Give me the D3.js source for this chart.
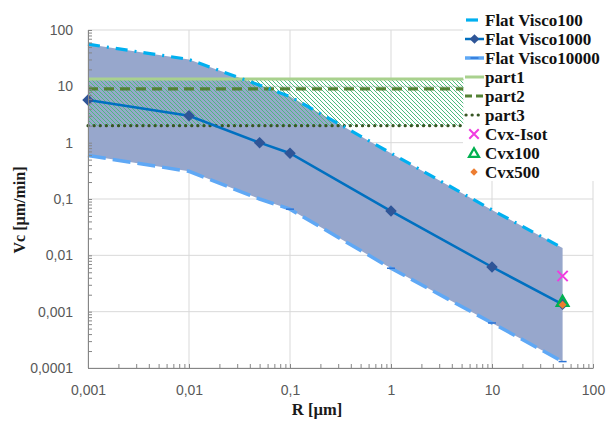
<!DOCTYPE html>
<html>
<head>
<meta charset="utf-8">
<script src="https://cdn.jsdelivr.net/npm/d3@7"></script>
<style>
  body { margin: 0; background: #fff; }
  svg { display: block; }
</style>
</head>
<body>
<svg width="606" height="421"></svg>
<script>
// radius values (um)
const radii = [0.001, 0.01, 0.05, 0.1, 1, 10, 50];
const visco100 = [56, 30, 10.5, 6.6, 0.65, 0.064, 0.0135];
const visco1000 = [5.7, 3.0, 1.0, 0.65, 0.061, 0.0062, 0.00135];
const visco10000 = [0.59, 0.31, 0.1, 0.066, 0.0059, 0.00063, 0.00013];

// horizontal bands
const partRange = [0.001, 5.2];
const part1 = 13.5;
const part2 = 9;
const part3 = 2;

// single points at R = 50
const cvxR = 50;
const cvxIsot = 0.0043;
const cvx100 = 0.00145;
const cvx500 = 0.00133;

const xTicks = [0.001, 0.01, 0.1, 1, 10, 100];
const xTickLabels = ["0,001", "0,01", "0,1", "1", "10", "100"];
const yTicks = [0.0001, 0.001, 0.01, 0.1, 1, 10, 100];
const yTickLabels = ["0,0001", "0,001", "0,01", "0,1", "1", "10", "100"];

const legendNames = ["Flat Visco100", "Flat Visco1000", "Flat Visco10000", "part1", "part2", "part3", "Cvx-Isot", "Cvx100", "Cvx500"];

const svg = d3.select("svg");
const x = d3.scaleLog().domain([0.001, 100]).range([88, 593]);
const y = d3.scaleLog().domain([0.0001, 100]).range([368, 30]);

// hatch pattern for the "part" band
const defs = svg.append("defs");
const pat = defs.append("pattern")
    .attr("id", "hatch")
    .attr("patternUnits", "userSpaceOnUse")
    .attr("width", 4).attr("height", 4);
pat.append("path")
    .attr("d", "M-1,-1 L5,5 M-1,3 L1,5 M3,-1 L5,1")
    .attr("stroke", "#4dbb7e")
    .attr("stroke-width", 1);

// minor tick values
function minors(lo, hi) {
    let out = [];
    for (let e = Math.log10(lo); e < Math.log10(hi); e++) {
        for (let k = 1; k < 10; k++) out.push(k * Math.pow(10, e));
    }
    out.push(hi);
    return out;
}

// gridlines
const grid = svg.append("g").attr("stroke", "#d9d9d9").attr("stroke-width", 1);
xTicks.forEach(t => {
    grid.append("line").attr("x1", x(t)).attr("x2", x(t)).attr("y1", y(100)).attr("y2", y(0.0001));
});
yTicks.forEach(t => {
    grid.append("line").attr("x1", x(0.001)).attr("x2", x(100)).attr("y1", y(t)).attr("y2", y(t));
});

// legend background hides gridlines under it
svg.append("rect").attr("x", 463).attr("y", 0).attr("width", 143).attr("height", 181).attr("fill", "#fff");

// band between the viscous curves
const pts = radii.map((r, i) => ({ r: r, hi: visco100[i], mid: visco1000[i], lo: visco10000[i] }));
const area = d3.area().x(d => x(d.r)).y0(d => y(d.lo)).y1(d => y(d.hi));
svg.append("path").datum(pts).attr("d", area).attr("fill", "#97a7cc");

// hatched band for the parts
svg.append("rect")
    .attr("x", x(partRange[0])).attr("width", x(partRange[1]) - x(partRange[0]))
    .attr("y", y(part1)).attr("height", y(part3) - y(part1))
    .attr("fill", "url(#hatch)");

function hline(v, color, dash, w, cap) {
    svg.append("line")
        .attr("x1", x(partRange[0])).attr("x2", x(partRange[1]))
        .attr("y1", y(v)).attr("y2", y(v))
        .attr("stroke", color).attr("stroke-width", w)
        .attr("stroke-dasharray", dash).attr("stroke-linecap", cap);
}
hline(part1, "#a9d18e", null, 3, "butt");
hline(part2, "#548235", "10,6", 3.2, "butt");
hline(part3, "#375623", "0.1,6", 3.2, "round");

const line = key => d3.line().x(d => x(d.r)).y(d => y(d[key]));

// Visco10000: light blue long dashes with small dash markers
svg.append("path").datum(pts).attr("d", line("lo"))
    .attr("fill", "none").attr("stroke", "#5fa8f5").attr("stroke-width", 3.5)
    .attr("stroke-dasharray", "18,7");
svg.selectAll(".m10000").data(pts.slice(3)).enter().append("line")
    .attr("x1", d => x(d.r) - 4).attr("x2", d => x(d.r) + 4)
    .attr("y1", d => y(d.lo)).attr("y2", d => y(d.lo))
    .attr("stroke", "#2e75d6").attr("stroke-width", 1.5);

// Visco100: cyan dash-dot
svg.append("path").datum(pts).attr("d", line("hi"))
    .attr("fill", "none").attr("stroke", "#00b0f0").attr("stroke-width", 3.2)
    .attr("stroke-dasharray", "12,7,2,7");

// Visco1000: solid blue with diamonds
svg.append("path").datum(pts).attr("d", line("mid"))
    .attr("fill", "none").attr("stroke", "#0070c0").attr("stroke-width", 2.5);
svg.selectAll(".m1000").data(pts).enter().append("path")
    .attr("d", d3.symbol(d3.symbolDiamond2, 85))
    .attr("transform", d => `translate(${x(d.r)},${y(d.mid)})`)
    .attr("fill", "#2f5597");

// convex points
svg.append("path").attr("d", d3.symbol(d3.symbolX, 70))
    .attr("transform", `translate(${x(cvxR)},${y(cvxIsot)})`)
    .attr("fill", "none").attr("stroke", "#f03ce0").attr("stroke-width", 2);
svg.append("path").attr("d", d3.symbol(d3.symbolTriangle2, 90))
    .attr("transform", `translate(${x(cvxR)},${y(cvx100)})`)
    .attr("fill", "none").attr("stroke", "#00b050").attr("stroke-width", 2.5);
svg.append("path").attr("d", d3.symbol(d3.symbolDiamond2, 40))
    .attr("transform", `translate(${x(cvxR)},${y(cvx500)})`)
    .attr("fill", "#ed7d31");

// axes
const yAxis = d3.axisLeft(y)
    .tickValues(minors(0.0001, 100))
    .tickSizeInner(-4).tickSizeOuter(0).tickPadding(15)
    .tickFormat(d => { const i = yTicks.findIndex(t => Math.abs(t - d) / t < 1e-6); return i >= 0 ? yTickLabels[i] : ""; });
const xAxis = d3.axisBottom(x)
    .tickValues(minors(0.001, 100))
    .tickSizeInner(-4).tickSizeOuter(0).tickPadding(17)
    .tickFormat(d => { const i = xTicks.findIndex(t => Math.abs(t - d) / t < 1e-6); return i >= 0 ? xTickLabels[i] : ""; });

function styleAxis(g) {
    g.select(".domain").attr("stroke", "#868686");
    g.selectAll(".tick line").attr("stroke", "#868686");
    g.selectAll(".tick text").attr("fill", "#595959")
        .style("font-family", "'Liberation Sans', Arial, sans-serif").style("font-size", "14px");
}
svg.append("g").attr("transform", `translate(${x(0.001)},0)`).call(yAxis).call(styleAxis);
svg.append("g").attr("transform", `translate(0,${y(0.0001)})`).call(xAxis).call(styleAxis);

// axis titles
const serif = "'Liberation Serif', 'Times New Roman', serif";
svg.append("text").attr("transform", "translate(25,210) rotate(-90)")
    .attr("text-anchor", "middle").style("font-family", serif).style("font-weight", "bold")
    .style("font-size", "16px").attr("fill", "#1a1a1a").text("Vc [µm/min]");
svg.append("text").attr("x", 317).attr("y", 415)
    .attr("text-anchor", "middle").style("font-family", serif).style("font-weight", "bold")
    .style("font-size", "16.5px").attr("fill", "#1a1a1a").text("R [µm]");

// legend
const lg = svg.append("g");
const rowY = i => 20 + i * 19;
const lx = 465, lw = 19;
legendNames.forEach((name, i) => {
    lg.append("text").attr("x", 485).attr("y", rowY(i)).attr("dy", "0.35em")
        .style("font-family", serif).style("font-weight", "bold").style("font-size", "17px")
        .attr("fill", "#111").text(name);
});
lg.append("line").attr("x1", lx + 1).attr("x2", lx + 13).attr("y1", rowY(0)).attr("y2", rowY(0))
    .attr("stroke", "#00b0f0").attr("stroke-width", 3.2);
lg.append("line").attr("x1", lx).attr("x2", lx + lw).attr("y1", rowY(1)).attr("y2", rowY(1))
    .attr("stroke", "#0070c0").attr("stroke-width", 2.5);
lg.append("path").attr("d", d3.symbol(d3.symbolDiamond2, 60))
    .attr("transform", `translate(${lx + 9.5},${rowY(1)})`).attr("fill", "#2f5597");
lg.append("line").attr("x1", lx).attr("x2", lx + lw).attr("y1", rowY(2)).attr("y2", rowY(2))
    .attr("stroke", "#5fa8f5").attr("stroke-width", 3.5);
lg.append("line").attr("x1", lx + 5.5).attr("x2", lx + 13.5).attr("y1", rowY(2)).attr("y2", rowY(2))
    .attr("stroke", "#2e75d6").attr("stroke-width", 1.5);
lg.append("line").attr("x1", lx).attr("x2", lx + lw).attr("y1", rowY(3)).attr("y2", rowY(3))
    .attr("stroke", "#a9d18e").attr("stroke-width", 3);
lg.append("line").attr("x1", lx).attr("x2", lx + lw).attr("y1", rowY(4)).attr("y2", rowY(4))
    .attr("stroke", "#548235").attr("stroke-width", 3.2).attr("stroke-dasharray", "7,4");
lg.append("line").attr("x1", lx + 1).attr("x2", lx + lw).attr("y1", rowY(5)).attr("y2", rowY(5))
    .attr("stroke", "#375623").attr("stroke-width", 3.2).attr("stroke-dasharray", "0.1,6").attr("stroke-linecap", "round");
lg.append("path").attr("d", d3.symbol(d3.symbolX, 60))
    .attr("transform", `translate(${lx + 9},${rowY(6)})`)
    .attr("fill", "none").attr("stroke", "#f03ce0").attr("stroke-width", 2);
lg.append("path").attr("d", d3.symbol(d3.symbolTriangle2, 70))
    .attr("transform", `translate(${lx + 9},${rowY(7) + 1})`)
    .attr("fill", "none").attr("stroke", "#00b050").attr("stroke-width", 2.3);
lg.append("path").attr("d", d3.symbol(d3.symbolDiamond2, 35))
    .attr("transform", `translate(${lx + 9},${rowY(8)})`).attr("fill", "#ed7d31");
</script>
</body>
</html>
